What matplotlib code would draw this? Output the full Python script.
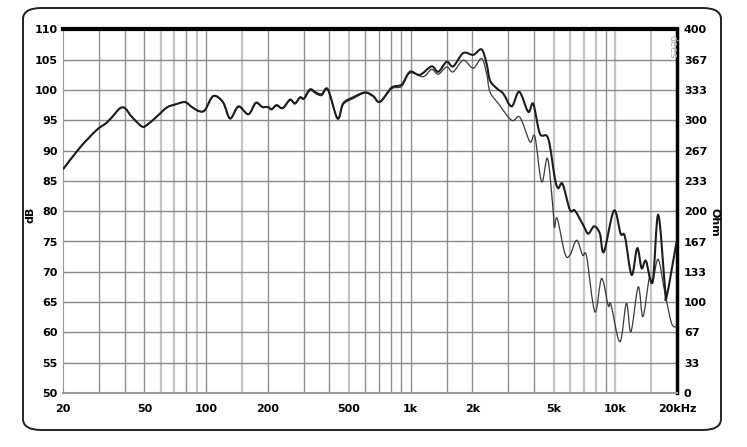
import numpy as np
import matplotlib.pyplot as plt
from matplotlib.patches import FancyBboxPatch, PathPatch
from matplotlib.path import Path

plt.rcParams['font.family'] = ['DejaVu Sans']

# frequency response, thick curve (Hz, dB)
freq_a = [20, 24.2, 29.2, 32.7, 35.9, 38.0, 40.2, 43.3, 48.5, 51.3, 57.4, 64.2, 70.5,
          78.9, 85.1, 92.7, 98.8, 108.5, 121, 131, 144, 161, 175, 188, 201, 209, 221,
          237, 257, 272, 288, 301, 322, 347, 368, 394, 439, 468, 524, 598, 656, 708,
          807, 903, 991, 1109, 1265, 1363, 1498, 1613, 1806, 2020, 2220, 2350, 2438,
          2628, 2832, 3112, 3390, 3752, 3968, 4278, 4696, 5064, 5256, 5522, 5996,
          6342, 6964, 7366, 7878, 8400, 8788, 9836, 10606, 11132, 12004, 12784,
          13432, 14098, 15202, 16186, 17462, 17798, 19908]
spl_a = [86.9, 90.5, 93.4, 94.6, 96.1, 97.0, 97.0, 95.6, 94.0, 94.2, 95.6, 97.1, 97.6,
         98.0, 97.2, 96.5, 96.7, 99.0, 98.0, 95.3, 97.3, 96.0, 97.9, 97.2, 97.2, 96.8,
         97.5, 97.0, 98.4, 97.8, 98.8, 98.6, 100.1, 99.5, 99.3, 100.1, 95.3, 97.8,
         98.8, 99.6, 99.0, 98.05, 100.4, 100.9, 103.0, 102.5, 103.9, 103.0, 104.65,
         103.9, 106.1, 105.8, 106.7, 104.3, 101.6, 100.3, 99.4, 97.3, 99.7, 96.4,
         97.7, 92.8, 92.0, 85.4, 83.8, 84.5, 80.2, 80.1, 77.7, 76.3, 77.5, 76.3,
         73.3, 80.1, 76.3, 75.8, 69.5, 73.9, 70.6, 71.8, 68.35, 79.4, 67.5, 65.9,
         75.0]

# thin curve (Hz, dB)
freq_b = [20, 24.2, 29.2, 32.7, 35.9, 38.0, 40.2, 43.3, 48.5, 51.3, 57.4, 64.2, 70.5,
          78.9, 85.1, 92.7, 98.8, 108.5, 121, 131, 144, 161, 175, 188, 201, 209, 221,
          237, 257, 272, 288, 301, 322, 347, 368, 394, 439, 468, 524, 598, 656, 708,
          807, 903, 991, 1151, 1265, 1363, 1498, 1613, 1806, 2020, 2220, 2350, 2438,
          2676, 3112, 3416, 3822, 4044, 4360, 4664, 4952, 5036, 5198, 5668, 5996,
          6464, 6916, 7234, 7940, 8564, 9224, 9508, 10520, 11320, 11910, 12928,
          13630, 14630, 15202, 16186, 17462, 18822, 19908]
spl_b = [86.9, 90.5, 93.4, 94.6, 96.1, 97.0, 97.0, 95.6, 94.0, 94.2, 95.6, 97.1, 97.6,
         98.0, 97.2, 96.5, 96.7, 99.0, 97.9, 95.3, 97.2, 96.0, 97.8, 97.2, 97.1, 96.8,
         97.4, 97.0, 98.3, 97.7, 98.7, 98.5, 99.9, 99.3, 99.1, 100.0, 95.3, 97.6,
         98.6, 99.5, 98.9, 98.0, 100.2, 100.6, 102.8, 102.2, 103.4, 102.6, 103.8,
         103.0, 104.9, 103.6, 105.2, 102.7, 99.7, 97.8, 95.0, 95.5, 91.45, 92.3,
         84.85, 88.7, 80.5, 77.3, 78.8, 73.0, 72.75, 75.2, 72.75, 72.5, 63.4, 68.9,
         64.4, 64.6, 58.45, 64.8, 60.1, 67.5, 62.6, 68.9, 68.2, 72.05, 66.5, 61.5,
         60.9]

db_ticks = [50, 55, 60, 65, 70, 75, 80, 85, 90, 95, 100, 105, 110]
ohm_labels = ['0', '33', '67', '100', '133', '167', '200', '233', '267', '300', '333',
              '367', '400']
x_ticks = [20, 50, 100, 200, 500, 1000, 2000, 5000, 10000, 20000]
x_labels = ['20', '50', '100', '200', '500', '1k', '2k', '5k', '10k', '20kHz']
grid_dark = [30, 40, 50, 80, 100, 200, 300, 400, 600, 700, 800, 900, 1000, 1500,
             2000, 3000, 4000, 9000]
grid_light = [60, 70, 90, 150, 500, 5000, 6000, 7000, 8000, 10000, 15000]


def smooth_path(freq, spl):
    # bezier segments through the read points (drawn in log-frequency space)
    lx = np.log10(freq)
    y = np.array(spl, dtype=float)
    n = len(lx)
    verts = [(freq[0], y[0])]
    codes = [Path.MOVETO]
    for i in range(n - 1):
        i0, i3 = max(i - 1, 0), min(i + 2, n - 1)
        c1 = (lx[i] + (lx[i + 1] - lx[i0]) / 6, y[i] + (y[i + 1] - y[i0]) / 6)
        c2 = (lx[i + 1] - (lx[i3] - lx[i]) / 6, y[i + 1] - (y[i3] - y[i]) / 6)
        verts += [(10 ** c1[0], c1[1]), (10 ** c2[0], c2[1]), (freq[i + 1], y[i + 1])]
        codes += [Path.CURVE4] * 3
    return Path(verts, codes)


fig = plt.figure(figsize=(7.47, 4.47), dpi=100)
fig.patches.append(FancyBboxPatch((23 / 747, 17 / 447), 698 / 747, 422 / 447,
                                  boxstyle='round,pad=0,rounding_size=0.025',
                                  transform=fig.transFigure, fill=False,
                                  edgecolor='#222222', linewidth=1.4))

ax = fig.add_axes([63 / 747, 54 / 447, 614 / 747, 363.6 / 447])
ax.set_xscale('log')
ax.set_xlim(20, 20000)
ax.set_ylim(50, 110)

for f in grid_dark:
    ax.axvline(f, color='#8f8f8f', lw=1.0, zorder=1)
for f in grid_light:
    ax.axvline(f, color='#c4c4c4', lw=1.6, zorder=1)
for d in db_ticks[1:-1]:
    ax.axhline(d, color='#8a8a8a', lw=1.0, zorder=1)

ax.add_patch(PathPatch(smooth_path(freq_b, spl_b), fill=False, edgecolor='#3a3a3a',
                       lw=0.9, zorder=3))
ax.add_patch(PathPatch(smooth_path(freq_a, spl_a), fill=False, edgecolor='#1e1e1e',
                       lw=1.5, zorder=4))

ax.set_yticks(db_ticks)
ax.set_yticklabels([str(d) for d in db_ticks], fontsize=8, fontweight='bold')
ax.set_xticks(x_ticks)
ax.set_xticklabels(x_labels, fontsize=8, fontweight='bold')
ax.minorticks_off()
ax.tick_params(axis='x', length=0, pad=8)
ax.tick_params(axis='y', length=0, pad=4)

ax.spines['top'].set_linewidth(3)
ax.spines['top'].set_color('black')
ax.spines['right'].set_linewidth(2.5)
ax.spines['right'].set_color('black')
ax.spines['left'].set_color('#9a9a9a')
ax.spines['bottom'].set_color('#9a9a9a')
ax.spines['bottom'].set_linewidth(1.5)

ax2 = ax.twinx()
ax2.set_ylim(0, 400)
ax2.set_yticks([i * 400 / 12 for i in range(13)])
ax2.set_yticklabels(ohm_labels, fontsize=8, fontweight='bold')
ax2.tick_params(length=0, pad=5)
for s in ax2.spines.values():
    s.set_visible(False)

fig.text(30 / 747, 1 - 215 / 447, 'dB', rotation=90, fontsize=8, fontweight='bold',
         ha='center', va='center')
fig.text(714 / 747, 1 - 222 / 447, 'Ohm', rotation=270, fontsize=8,
         fontweight='bold', ha='center', va='center')
ax.text(0.992, 0.985, 'dees', transform=ax.transAxes, rotation=270, fontsize=7,
        color='#b0b0b0', ha='center', va='top')

fig.savefig('out.png', dpi=100)
